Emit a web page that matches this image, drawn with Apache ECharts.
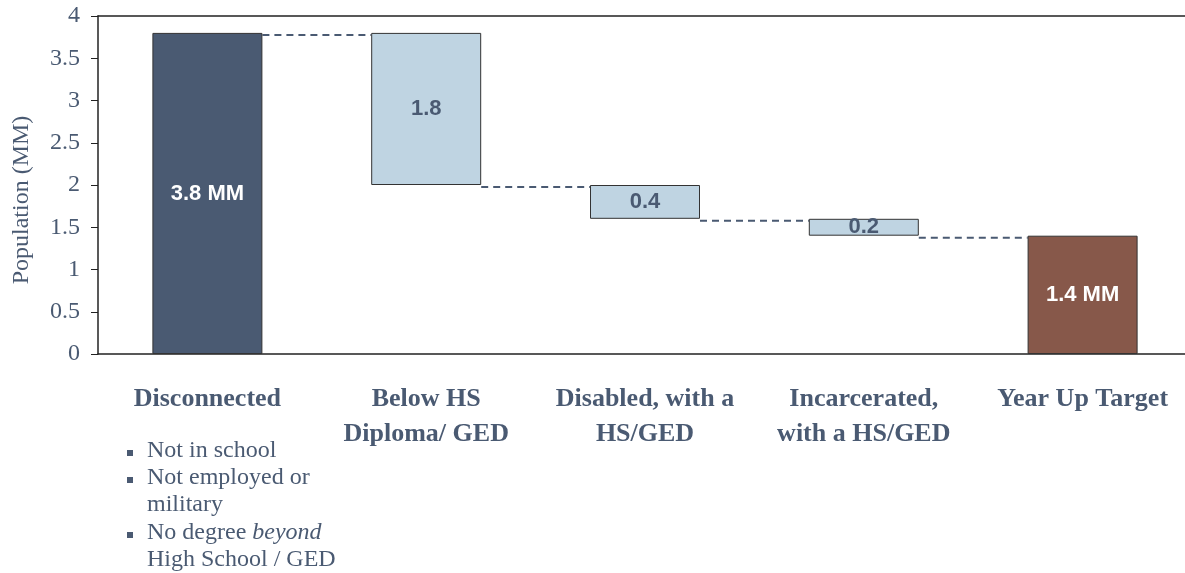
<!DOCTYPE html>
<html>
<head>
<meta charset="utf-8">
<script src="https://cdn.jsdelivr.net/npm/echarts@6/dist/echarts.min.js"></script>
<style>
  * { margin: 0; padding: 0; }
  html, body { width: 1185px; height: 573px; background: #fff; overflow: hidden; }
  #chart { width: 1185px; height: 573px; }
</style>
</head>
<body>
<div id="chart"></div>
<script>
// categories and values (MM)
const categories = [
  "Disconnected",
  "Below HS\nDiploma/ GED",
  "Disabled, with a\nHS/GED",
  "Incarcerated,\nwith a HS/GED",
  "Year Up Target",
];
const baseValues = [0, 2.0, 1.6, 1.4, 0]; // invisible part under each step
const stepValues = [3.8, 1.8, 0.4, 0.2, 1.4];
const stepLabels = ["3.8 MM", "1.8", "0.4", "0.2", "1.4 MM"];
const connectorLevels = [3.8, 2.0, 1.6, 1.4]; // dashed line from bar i to bar i+1
const yTicks = [0, 0.5, 1, 1.5, 2, 2.5, 3, 3.5, 4];
const yName = "Population (MM)";
const bullets = ["Not in school", "Not employed or", "military", "No degree ", "High School / GED"];

const slate = "#4a5a72";
const barColors = [slate, "#bfd4e2", "#bfd4e2", "#bfd4e2", "#87584a"];
const labelColors = ["#fff", slate, slate, slate, "#fff"];
const BAR_W = 110;
const serif = "'Liberation Serif', 'DejaVu Serif', serif";
const sans = "'Liberation Sans', Arial, sans-serif";

const chart = echarts.init(document.getElementById("chart"));

const option = {
  animation: false,
  grid: { left: 98, right: -7, top: 16, bottom: 219, containLabel: false, outerBoundsMode: "none" },
  xAxis: [
    {
      type: "category",
      data: categories,
      axisLine: { lineStyle: { color: "#222", width: 1.5 } },
      axisTick: { show: false },
      axisLabel: {
        interval: 0,
        margin: 28,
        color: slate,
        fontFamily: serif,
        fontWeight: "bold",
        fontSize: 26,
        lineHeight: 35,
      },
    },
    {
      // top frame line
      type: "category",
      position: "top",
      data: categories,
      axisLine: { lineStyle: { color: "#222", width: 1.5 } },
      axisTick: { show: false },
      axisLabel: { show: false },
    },
  ],
  yAxis: {
    type: "value",
    min: 0,
    max: 4,
    interval: 0.5,
    axisLine: { show: true, lineStyle: { color: "#222", width: 1.5 } },
    axisTick: { show: true, inside: false, length: 7, lineStyle: { color: "#222" } },
    axisLabel: {
      color: slate,
      fontFamily: serif,
      fontSize: 24,
      margin: 18,
      formatter: (v) => (yTicks.includes(v) ? String(v) : ""),
    },
    splitLine: { show: false },
  },
  series: [
    {
      name: "base",
      type: "bar",
      stack: "w",
      barWidth: BAR_W,
      itemStyle: { color: "transparent" },
      emphasis: { disabled: true },
      data: baseValues,
    },
    {
      name: "step",
      type: "bar",
      stack: "w",
      barWidth: BAR_W,
      data: stepValues.map((v, i) => ({
        value: v,
        itemStyle: { color: barColors[i], borderColor: "#333", borderWidth: 1 },
        label: { color: labelColors[i] },
      })),
      label: {
        show: true,
        position: "inside",
        fontFamily: sans,
        fontWeight: "bold",
        fontSize: 22,
        formatter: (p) => stepLabels[p.dataIndex],
      },
    },
    {
      name: "connectors",
      type: "custom",
      silent: true,
      data: connectorLevels.map((v, i) => [i, v]),
      renderItem: (params, api) => {
        const i = api.value(0);
        const lvl = api.value(1);
        const a = api.coord([i, lvl]);
        const b = api.coord([i + 1, lvl]);
        return {
          type: "line",
          shape: { x1: a[0] + BAR_W / 2, y1: a[1] + 2, x2: b[0] - BAR_W / 2, y2: b[1] + 2 },
          style: { stroke: slate, lineWidth: 2, lineDash: [7, 5] },
        };
      },
    },
  ],
  graphic: [
    {
      type: "text",
      x: 10,
      y: 200,
      rotation: Math.PI / 2,
      style: {
        text: yName,
        font: "24px " + serif,
        fill: slate,
        align: "center",
        verticalAlign: "top",
      },
    },
    {
      type: "group",
      left: 127,
      top: 439,
      children: [
        { type: "rect", shape: { x: 0, y: 11, width: 6, height: 6 }, style: { fill: slate } },
        { type: "text", x: 20, y: 0, style: { text: bullets[0], font: "24px " + serif, fill: slate } },
        { type: "rect", shape: { x: 0, y: 38, width: 6, height: 6 }, style: { fill: slate } },
        { type: "text", x: 20, y: 27, style: { text: bullets[1], font: "24px " + serif, fill: slate } },
        { type: "text", x: 20, y: 54, style: { text: bullets[2], font: "24px " + serif, fill: slate } },
        { type: "rect", shape: { x: 0, y: 93, width: 6, height: 6 }, style: { fill: slate } },
        {
          type: "text",
          x: 20,
          y: 82,
          style: {
            text: "{n|" + bullets[3] + "}{i|beyond}",
            rich: {
              n: { font: "24px " + serif, fill: slate, color: slate },
              i: { font: "italic 24px " + serif, fill: slate, color: slate },
            },
          },
        },
        { type: "text", x: 20, y: 109, style: { text: bullets[4], font: "24px " + serif, fill: slate } },
      ],
    },
  ],
};

chart.setOption(option);
</script>
</body>
</html>
